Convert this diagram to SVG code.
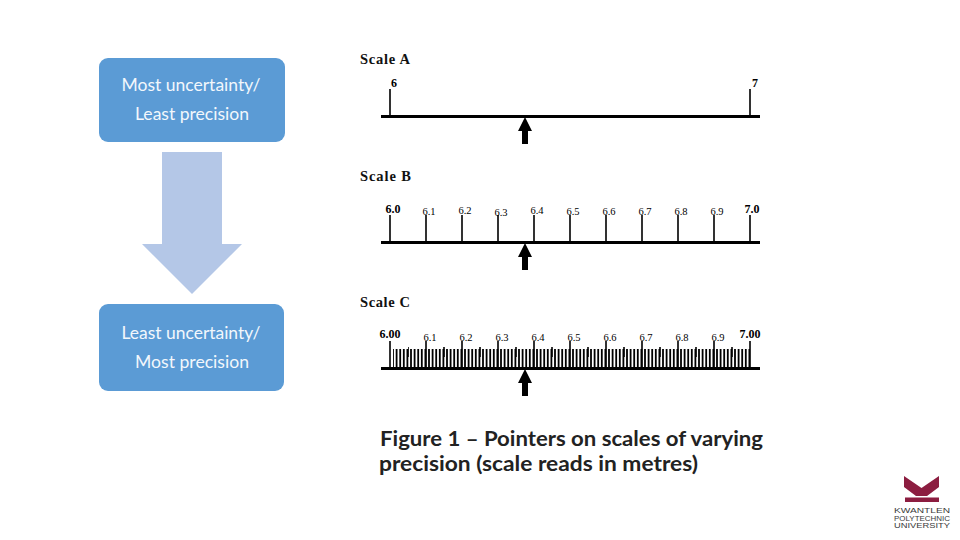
<svg xmlns="http://www.w3.org/2000/svg" width="960" height="540" viewBox="0 0 960 540">
<style>
.box{fill:#5b9bd5}
.bt{font:18px Lato,"Open Sans",sans-serif;fill:#f2f7fc;text-anchor:middle}
.sc{font:bold 14.500px "Liberation Serif",serif;fill:#111}
.maj{font:bold 12px "Liberation Serif",serif;fill:#000;text-anchor:middle}
.min{font:10.500px "Liberation Serif",serif;fill:#000;text-anchor:middle}
.cap{font:bold 21px Lato,"Open Sans",sans-serif;fill:#222}
.base{stroke:#000;stroke-width:3;fill:none}
.tick{stroke:#000;stroke-width:1.600;fill:none}
.ptr{fill:#000}
.logo{font:6.400px "Liberation Sans",sans-serif;fill:#3a3a3a;text-anchor:middle}
</style>
<defs>
<path id="ptr" class="ptr" d="M0 0L7 14H3V27H-3V14H-7Z"/>
</defs>
<rect width="960" height="540" fill="#fff"/>
<g id="box-most-uncertainty">
<rect class="box" x="99" y="58" width="186" height="84" rx="9"/>
<text class="bt" x="191" y="91" textLength="139" lengthAdjust="spacingAndGlyphs">Most uncertainty/</text>
<text class="bt" x="192" y="120" textLength="114" lengthAdjust="spacingAndGlyphs">Least precision</text>
</g>
<g id="down-arrow">
<path fill="#b4c7e7" d="M162 152H222V244H242L192 294L142 244H162Z"/>
</g>
<g id="box-least-uncertainty">
<rect class="box" x="99" y="304" width="185" height="87" rx="9"/>
<text class="bt" x="191" y="339" textLength="139" lengthAdjust="spacingAndGlyphs">Least uncertainty/</text>
<text class="bt" x="192" y="368" textLength="114" lengthAdjust="spacingAndGlyphs">Most precision</text>
</g>
<g id="scale-a">
<text class="sc" x="360" y="64" textLength="50" lengthAdjust="spacing">Scale A</text>
<text class="maj" x="394" y="87">6</text>
<text class="maj" x="755" y="87">7</text>
<path class="tick" d="M390 89V116M750 89V116"/>
<path class="base" d="M381 116.500H760"/>
<use href="#ptr" x="525" y="117"/>
</g>
<g id="scale-b">
<text class="sc" x="360" y="181" textLength="51" lengthAdjust="spacing">Scale B</text>
<text class="maj" x="393" y="213">6.0</text>
<text class="min" x="429" y="215">6.1</text>
<text class="min" x="465" y="214">6.2</text>
<text class="min" x="501" y="216">6.3</text>
<text class="min" x="537" y="214">6.4</text>
<text class="min" x="573" y="215">6.5</text>
<text class="min" x="609" y="215">6.6</text>
<text class="min" x="645" y="215">6.7</text>
<text class="min" x="681" y="215">6.8</text>
<text class="min" x="717" y="215">6.9</text>
<text class="maj" x="752" y="213">7.0</text>
<path class="tick" d="M390 215V242M426 215V242M462 215V242M498 215V242M534 215V242M570 215V242M606 215V242M642 215V242M678 215V242M714 215V242M750 215V242"/>
<path class="base" d="M381 242.500H760"/>
<use href="#ptr" x="525" y="243"/>
</g>
<g id="scale-c">
<text class="sc" x="360" y="307" textLength="50" lengthAdjust="spacing">Scale C</text>
<text class="maj" x="390" y="338">6.00</text>
<text class="min" x="430" y="341">6.1</text>
<text class="min" x="466" y="341">6.2</text>
<text class="min" x="502" y="341">6.3</text>
<text class="min" x="538" y="341">6.4</text>
<text class="min" x="574" y="341">6.5</text>
<text class="min" x="610" y="341">6.6</text>
<text class="min" x="646" y="341">6.7</text>
<text class="min" x="682" y="341">6.8</text>
<text class="min" x="718" y="341">6.9</text>
<text class="maj" x="750" y="338">7.00</text>
<line x1="393" y1="358.500" x2="750" y2="358.500" stroke="#000" stroke-width="19" stroke-dasharray="1.800 1.800" stroke-dashoffset="0.900"/>
<line x1="408" y1="352" x2="750" y2="352" stroke="#000" stroke-width="10" stroke-dasharray="1.600 34.400" stroke-dashoffset="0.800"/>
<path class="tick" d="M390 341V368M426 341V368M462 341V368M498 341V368M534 341V368M570 341V368M606 341V368M642 341V368M678 341V368M714 341V368M750 341V368"/>
<path class="base" d="M381 368.500H760"/>
<use href="#ptr" x="525" y="369"/>
</g>
<g id="caption">
<text class="cap" x="380" y="446" textLength="383" lengthAdjust="spacingAndGlyphs">Figure 1 – Pointers on scales of varying</text>
<text class="cap" x="379" y="471" textLength="319" lengthAdjust="spacingAndGlyphs">precision (scale reads in metres)</text>
</g>
<g id="logo">
<path fill="#8c1d40" d="M904 476L921.500 488L939 476V487L927 496H916L904 487ZM905 497.500H939V502H905Z"/>
<text class="logo" x="922" y="513" textLength="56" lengthAdjust="spacingAndGlyphs">KWANTLEN</text>
<text class="logo" x="922" y="520.500" textLength="56" lengthAdjust="spacingAndGlyphs">POLYTECHNIC</text>
<text class="logo" x="922" y="528" textLength="56" lengthAdjust="spacingAndGlyphs">UNIVERSITY</text>
</g>
</svg>
